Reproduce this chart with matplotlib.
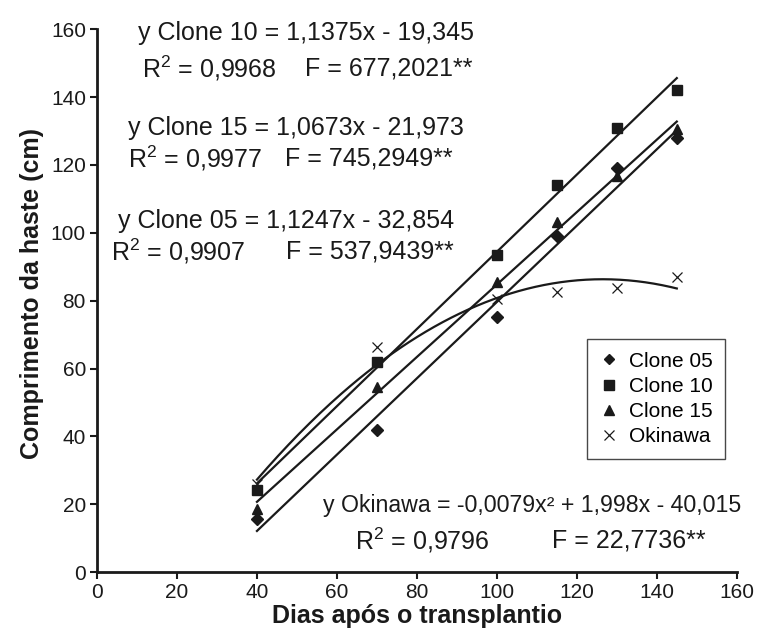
import numpy as np
import matplotlib
matplotlib.use('Agg')
import matplotlib.pyplot as plt

plt.rcParams['font.family'] = ['Liberation Sans', 'DejaVu Sans']
plt.rcParams['mathtext.fontset'] = 'custom'
plt.rcParams['mathtext.rm'] = 'Liberation Sans'
plt.rcParams['mathtext.it'] = 'Liberation Sans'

# dados
dias = [40, 70, 100, 115, 130, 145]
clone05 = [15.8, 42.0, 75.1, 99.0, 119.2, 128.0]
clone10 = [24.3, 62.0, 93.5, 114.0, 131.0, 142.0]
clone15 = [18.6, 54.5, 85.5, 103.3, 116.8, 130.6]
okinawa = [26.0, 66.2, 80.6, 82.5, 83.7, 87.1]

# coeficientes das regressoes (como impressos no grafico)
coef05 = [1.1247, -32.854]
coef10 = [1.1375, -19.345]
coef15 = [1.0673, -21.973]
coef_oki = [-0.0079, 1.998, -40.015]

cor = '#1a1a1a'

fig = plt.figure(figsize=(7.58, 6.35), dpi=100)
ax = fig.add_axes([0.128, 0.099, 0.844, 0.855])

xx = np.linspace(min(dias), max(dias), 200)
for c in (coef05, coef10, coef15, coef_oki):
    ax.plot(xx, np.polyval(c, xx), color=cor, lw=1.6, zorder=2)

ax.plot(dias, clone05, 'D', color=cor, ms=6, ls='none', label='Clone 05', zorder=3)
ax.plot(dias, clone10, 's', color=cor, ms=7.5, ls='none', label='Clone 10', zorder=3)
ax.plot(dias, clone15, '^', color=cor, ms=7.5, ls='none', label='Clone 15', zorder=3)
ax.plot(dias, okinawa, 'x', color=cor, ms=7.5, mew=0.9, ls='none', label='Okinawa', zorder=3)

fs = 18
ax.text(10.25, 158.8, 'y Clone 10 = 1,1375x - 19,345', fontsize=fs, va='center', color=cor)
ax.text(11.25, 148.5, 'R$^2$ = 0,9968', fontsize=fs, va='center', color=cor)
ax.text(52, 148.5, 'F = 677,2021**', fontsize=fs, va='center', color=cor)

ax.text(7.75, 130.8, 'y Clone 15 = 1,0673x - 21,973', fontsize=fs, va='center', color=cor)
ax.text(7.75, 122, 'R$^2$ = 0,9977', fontsize=fs, va='center', color=cor)
ax.text(47, 122, 'F = 745,2949**', fontsize=fs, va='center', color=cor)

ax.text(5.25, 103.4, 'y Clone 05 = 1,1247x - 32,854', fontsize=fs, va='center', color=cor)
ax.text(3.5, 94.6, 'R$^2$ = 0,9907', fontsize=fs, va='center', color=cor)
ax.text(47.25, 94.6, 'F = 537,9439**', fontsize=fs, va='center', color=cor)

ax.text(56.5, 19.7, 'y Okinawa = -0,0079x² + 1,998x - 40,015', fontsize=16.7, va='center', color=cor)
ax.text(64.5, 9.4, 'R$^2$ = 0,9796', fontsize=fs, va='center', color=cor)
ax.text(113.75, 9.4, 'F = 22,7736**', fontsize=fs, va='center', color=cor)

ax.set_xlim(0, 160)
ax.set_ylim(0, 160)
ax.set_xticks(range(0, 161, 20))
ax.set_yticks(range(0, 161, 20))
ax.tick_params(labelsize=15, colors=cor, width=1.5, length=5, direction='out', pad=3)
for s in ('top', 'right'):
    ax.spines[s].set_visible(False)
for s in ('left', 'bottom'):
    ax.spines[s].set_linewidth(2)
    ax.spines[s].set_color(cor)

ax.set_xlabel('Dias após o transplantio', fontsize=18, fontweight='bold', color=cor, labelpad=1)
ax.set_ylabel('Comprimento da haste (cm)', fontsize=18, fontweight='bold', color=cor)
ax.yaxis.set_label_coords(-0.083, 0.514)

leg = ax.legend(loc='upper left', bbox_to_anchor=(0.766, 0.429), borderaxespad=0,
                fontsize=15, frameon=True, fancybox=False, edgecolor=cor,
                handletextpad=0.5, labelspacing=0.3, handlelength=0.9, borderpad=0.6,
                markerscale=0.9)
leg.get_frame().set_linewidth(1)

fig.savefig('out.png', dpi=100)
